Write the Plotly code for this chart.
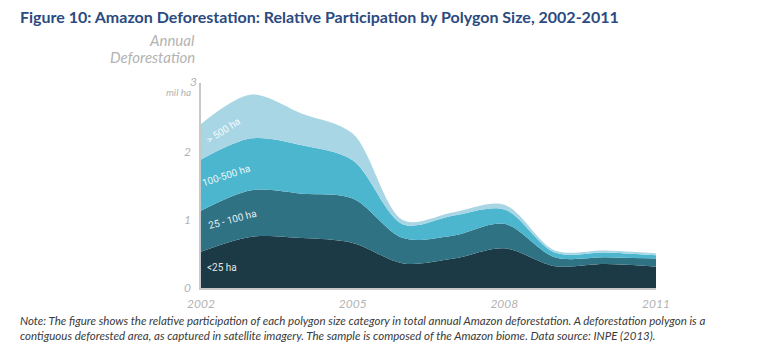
import plotly.graph_objects as go

# ---- data (million ha) ----
years = [2002, 2003, 2004, 2005, 2006, 2007, 2008, 2009, 2010, 2011]
lt25 = [0.53, 0.75, 0.73, 0.66, 0.36, 0.43, 0.58, 0.32, 0.35, 0.31]
s25_100 = [0.60, 0.68, 0.65, 0.65, 0.37, 0.34, 0.36, 0.13, 0.10, 0.12]
s100_500 = [0.75, 0.76, 0.71, 0.56, 0.20, 0.29, 0.21, 0.07, 0.07, 0.05]
gt500 = [0.52, 0.64, 0.46, 0.39, 0.06, 0.05, 0.07, 0.03, 0.03, 0.03]

series_names = ["<25 ha", "25 - 100 ha", "100-500 ha", "> 500 ha"]
series_vals = [lt25, s25_100, s100_500, gt500]
colors = ["#1b3a45", "#2f7283", "#4cb6cf", "#a9d6e5"]

x_ticks = [2002, 2005, 2008, 2011]
y_ticks = [0, 1, 2]
y_top_label = "3"

W, H = 777, 353
L, R, T, B = 201, 121, 83, 65
plot_w = W - L - R
plot_h = H - T - B


def pp_x(px):
    return (px - L) / plot_w


def pp_y(py):
    return (H - B - py) / plot_h


fig = go.Figure()
for name, vals, col in zip(series_names, series_vals, colors):
    fig.add_trace(go.Scatter(
        x=years, y=vals, name=name, mode="lines",
        stackgroup="one",
        line=dict(width=0, shape="spline", smoothing=0.9, color=col),
        fillcolor=col, hoverinfo="x+y+name",
    ))

label_font = dict(family="Liberation Sans Narrow, Roboto, sans-serif", size=10,
                  color="rgba(255,255,255,0.9)")
labels = [
    ("<25 ha", 222, 267, 0),
    ("25 - 100 ha", 232, 220, -15),
    ("100-500 ha", 226, 175, -18),
    ("> 500 ha", 223, 130, -33),
]
annotations = []
for txt, ax, ay, ang in labels:
    annotations.append(dict(x=pp_x(ax), y=pp_y(ay), xref="paper", yref="paper", text=txt,
                            xanchor="center", yanchor="middle",
                            showarrow=False, textangle=ang, font=label_font))

gray = "#b3b3b3"
annotations += [
    dict(x=pp_x(197), y=pp_y(40), xref="paper", yref="paper", text="Annual",
         xanchor="right", yanchor="middle",
         showarrow=False, font=dict(family="Lato", size=15, color=gray, style="italic")),
    dict(x=pp_x(197), y=pp_y(57), xref="paper", yref="paper", text="Deforestation",
         xanchor="right", yanchor="middle",
         showarrow=False, font=dict(family="Lato", size=15, color=gray, style="italic")),
    dict(x=pp_x(199), y=pp_y(81), xref="paper", yref="paper", text=y_top_label,
         xanchor="right", yanchor="middle",
         showarrow=False, font=dict(family="Lato", size=12, color=gray, style="italic")),
    dict(x=pp_x(193), y=pp_y(92), xref="paper", yref="paper", text="mil ha",
         xanchor="right", yanchor="middle",
         showarrow=False, font=dict(family="Lato", size=10, color=gray, style="italic")),
    dict(x=pp_x(18), y=pp_y(312), xref="paper", yref="paper", xanchor="left", yanchor="top",
         align="left", showarrow=False,
         text=("Note: The figure shows the relative participation of each polygon size category in total annual Amazon deforestation. A deforestation polygon is a<br>"
               "contiguous deforested area, as captured in satellite imagery. The sample is composed of the Amazon biome. Data source: INPE (2013)."),
         font=dict(family="Lato", size=11.5, color="#3a3a3a", style="italic")),
]

fig.update_layout(
    width=W, height=H,
    margin=dict(l=L, r=R, t=T, b=B),
    paper_bgcolor="white", plot_bgcolor="white",
    showlegend=False,
    title=dict(text="<b>Figure 10: Amazon Deforestation: Relative Participation by Polygon Size, 2002-2011</b>",
               x=20 / W, xref="container", xanchor="left",
               y=1 - 17 / H, yref="container", yanchor="middle",
               font=dict(family="Lato", size=16, color="#2b4a80")),
    annotations=annotations,
)
fig.update_xaxes(range=[2002, 2011], tickvals=x_ticks, ticktext=[str(v) for v in x_ticks],
                 showgrid=False, zeroline=False, showline=True, linecolor="#c8c8c8", linewidth=1.5,
                 ticks="", ticklabelstandoff=4,
                 tickfont=dict(family="Lato", size=12, color=gray, style="italic"))
fig.update_yaxes(range=[0, 3], tickvals=y_ticks, ticktext=[str(v) for v in y_ticks],
                 showgrid=False, zeroline=False, showline=True, linecolor="#c8c8c8", linewidth=1.5,
                 ticks="", ticklabelstandoff=6,
                 tickfont=dict(family="Lato", size=12, color=gray, style="italic"))

fig.write_html("out.html")
